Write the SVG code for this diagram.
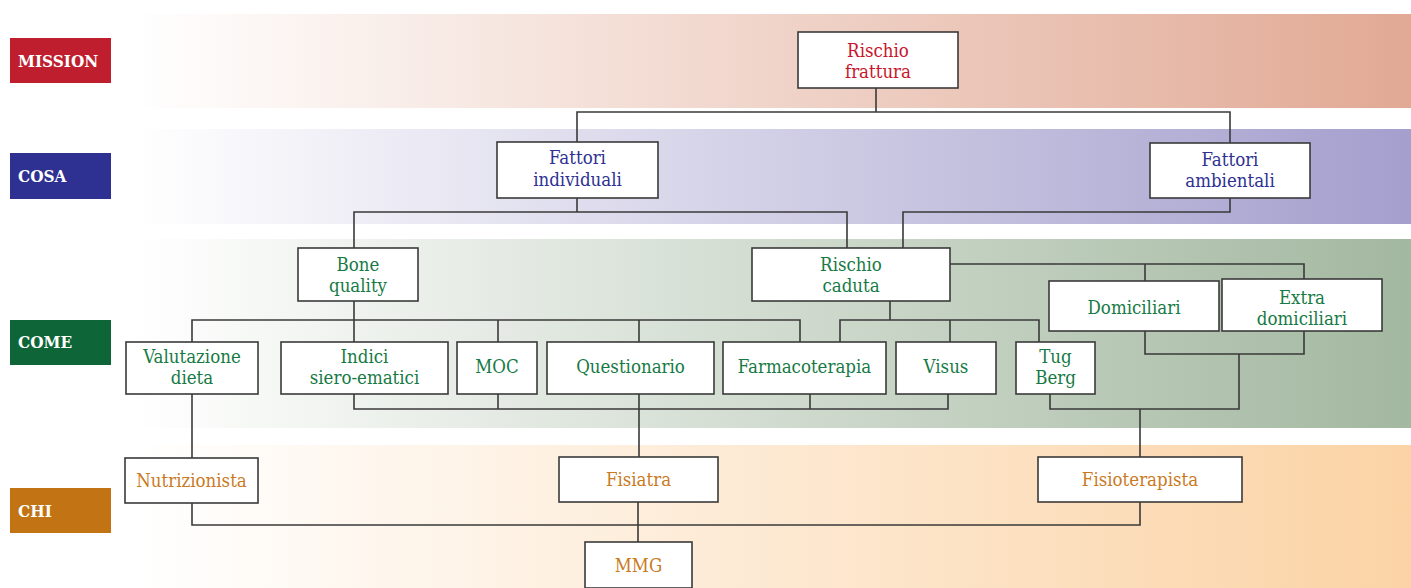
<svg xmlns="http://www.w3.org/2000/svg" width="1411" height="588" viewBox="0 0 1411 588">
<defs>
<linearGradient id="gM" x1="0" y1="0" x2="1" y2="0"><stop offset="0" stop-color="#ffffff"/><stop offset="1" stop-color="#e1a994"/></linearGradient>
<linearGradient id="gC" x1="0" y1="0" x2="1" y2="0"><stop offset="0" stop-color="#ffffff"/><stop offset="1" stop-color="#a49fcd"/></linearGradient>
<linearGradient id="gW" x1="0" y1="0" x2="1" y2="0"><stop offset="0" stop-color="#ffffff"/><stop offset="1" stop-color="#a3b8a0"/></linearGradient>
<linearGradient id="gH" x1="0" y1="0" x2="1" y2="0"><stop offset="0" stop-color="#ffffff"/><stop offset="1" stop-color="#fbd3a5"/></linearGradient>
<style>
.box{fill:#ffffff;stroke:#3a3a3a;stroke-width:1.6}
.t{font-family:"DejaVu Serif Condensed","DejaVu Serif",serif;font-stretch:condensed;font-size:18.5px;text-anchor:middle}
.red{fill:#c8162c}.blue{fill:#2e3192}.green{fill:#177a45}.orange{fill:#c97a1f}
.lab{font-family:"DejaVu Serif Condensed","DejaVu Serif",serif;font-stretch:condensed;font-weight:bold;font-size:17px;fill:#ffffff}
.c{fill:none;stroke:#3a3a3a;stroke-width:1.6}
</style>
</defs>
<g id="bands">
<rect x="133" y="14" width="1278" height="94" fill="url(#gM)"/>
<rect x="133" y="129" width="1278" height="95" fill="url(#gC)"/>
<rect x="133" y="239" width="1278" height="189" fill="url(#gW)"/>
<rect x="133" y="445" width="1278" height="143" fill="url(#gH)"/>
</g>
<g id="label-mission"><rect x="10" y="38" width="101" height="45" fill="#be1e2d"/><text class="lab" x="18" y="67">MISSION</text></g>
<g id="label-cosa"><rect x="10" y="153" width="101" height="46" fill="#2e3192"/><text class="lab" x="18" y="182">COSA</text></g>
<g id="label-come"><rect x="10" y="320" width="101" height="45" fill="#0e6638"/><text class="lab" x="18" y="348">COME</text></g>
<g id="label-chi"><rect x="10" y="488" width="101" height="45" fill="#c27414"/><text class="lab" x="18" y="517">CHI</text></g>
<g id="connectors">
<path class="c" d="M876 88 V112 M577 142 V112 H1230 V143"/>
<path class="c" d="M577 198 V212 M354 248 V212 H847 V248"/>
<path class="c" d="M1230 198 V212 H903 V248"/>
<path class="c" d="M354 301 V342 M192 342 V320 H800 V342 M498 320 V342 M639 320 V342"/>
<path class="c" d="M890 301 V320 M840 342 V320 H1039 V342 M950 320 V342"/>
<path class="c" d="M950 264 H1304 V279 M1145 264 V281"/>
<path class="c" d="M1145 331 V354 H1304 V331 M1239 354 V409 H1050 V394 M1140 409 V457"/>
<path class="c" d="M354 394 V409 H948 V394 M498 394 V409 M810 394 V409 M639 394 V457"/>
<path class="c" d="M192 394 V458"/>
<path class="c" d="M192 503 V525 H1140 V502 M638 502 V542"/>
</g>
<g id="n-rischio-frattura"><rect class="box" x="798" y="32" width="160" height="56"/><text class="t red" x="878" y="57">Rischio</text><text class="t red" x="878" y="78">frattura</text></g>
<g id="n-fattori-individuali"><rect class="box" x="497" y="142" width="161" height="56"/><text class="t blue" x="577.5" y="164">Fattori</text><text class="t blue" x="577.5" y="186">individuali</text></g>
<g id="n-fattori-ambientali"><rect class="box" x="1150" y="143" width="160" height="55"/><text class="t blue" x="1230" y="166">Fattori</text><text class="t blue" x="1230" y="187">ambientali</text></g>
<g id="n-bone-quality"><rect class="box" x="298" y="248" width="120" height="53"/><text class="t green" x="358" y="271">Bone</text><text class="t green" x="358" y="292">quality</text></g>
<g id="n-rischio-caduta"><rect class="box" x="752" y="248" width="198" height="53"/><text class="t green" x="851" y="271">Rischio</text><text class="t green" x="851" y="292">caduta</text></g>
<g id="n-domiciliari"><rect class="box" x="1049" y="281" width="170" height="50"/><text class="t green" x="1134" y="314">Domiciliari</text></g>
<g id="n-extra-domiciliari"><rect class="box" x="1222" y="279" width="160" height="52"/><text class="t green" x="1302" y="304">Extra</text><text class="t green" x="1302" y="325">domiciliari</text></g>
<g id="n-valutazione-dieta"><rect class="box" x="126" y="342" width="132" height="52"/><text class="t green" x="192" y="363">Valutazione</text><text class="t green" x="192" y="384">dieta</text></g>
<g id="n-indici"><rect class="box" x="281" y="342" width="167" height="52"/><text class="t green" x="364.5" y="363">Indici</text><text class="t green" x="364.5" y="384">siero-ematici</text></g>
<g id="n-moc"><rect class="box" x="457" y="342" width="80" height="52"/><text class="t green" x="497" y="373">MOC</text></g>
<g id="n-questionario"><rect class="box" x="547" y="342" width="167" height="52"/><text class="t green" x="630.5" y="373">Questionario</text></g>
<g id="n-farmacoterapia"><rect class="box" x="723" y="342" width="163" height="52"/><text class="t green" x="804.5" y="373">Farmacoterapia</text></g>
<g id="n-visus"><rect class="box" x="896" y="342" width="100" height="52"/><text class="t green" x="946" y="373">Visus</text></g>
<g id="n-tug-berg"><rect class="box" x="1016" y="342" width="79" height="52"/><text class="t green" x="1055.5" y="363">Tug</text><text class="t green" x="1055.5" y="384">Berg</text></g>
<g id="n-nutrizionista"><rect class="box" x="125" y="458" width="133" height="45"/><text class="t orange" x="191.5" y="487">Nutrizionista</text></g>
<g id="n-fisiatra"><rect class="box" x="559" y="457" width="159" height="45"/><text class="t orange" x="638.5" y="486">Fisiatra</text></g>
<g id="n-fisioterapista"><rect class="box" x="1038" y="457" width="204" height="45"/><text class="t orange" x="1140" y="486">Fisioterapista</text></g>
<g id="n-mmg"><rect class="box" x="585" y="542" width="107" height="46"/><text class="t orange" x="638.5" y="572">MMG</text></g>
</svg>
